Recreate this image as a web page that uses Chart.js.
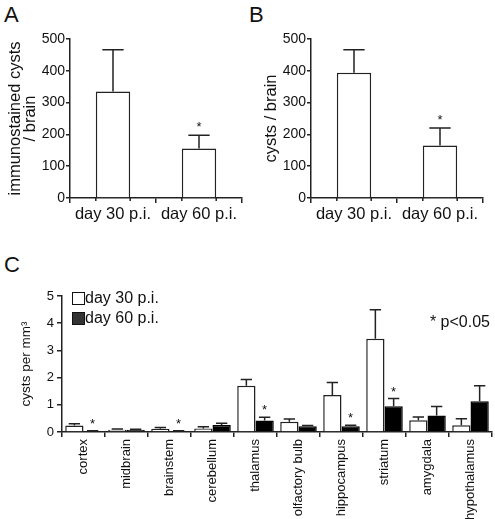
<!DOCTYPE html>
<html>
<head>
<meta charset="utf-8">
<script src="https://cdn.jsdelivr.net/npm/chart.js@4"></script>
<style>
  body { margin: 0; background: #fff; }
  #wrap { position: relative; width: 495px; height: 519px; overflow: hidden; }
  canvas { position: absolute; }
  .panel { position: absolute; font: 22px 'Liberation Sans', Arial, sans-serif; color: #111; }
</style>
</head>
<body>
<div id="wrap">
  <div class="panel" style="left:4px;top:2px">A</div>
  <div class="panel" style="left:249px;top:2px">B</div>
  <div class="panel" style="left:4px;top:252px">C</div>
  <canvas id="chartA" width="250" height="232" style="left:0;top:0"></canvas>
  <canvas id="chartB" width="250" height="232" style="left:245px;top:0"></canvas>
  <canvas id="chartC" width="495" height="249" style="left:0;top:270px"></canvas>
</div>
<script>
// panels A and B
var days = ["day 30 p.i.", "day 60 p.i."];
var immunoMeans = [335, 156];
var immunoErr = [131, 41];
var cystMeans = [394, 165];
var cystErr = [72, 55];
var daySig = [false, true];

// panel C
var regions = ["cortex", "midbrain", "brainstem", "cerebellum", "thalamus",
  "olfactory bulb", "hippocampus", "striatum", "amygdala", "hypothalamus"];
var day30Means = [0.24, 0.08, 0.12, 0.13, 1.70, 0.38, 1.36, 3.43, 0.43, 0.25];
var day30Err = [0.06, 0.03, 0.05, 0.06, 0.23, 0.10, 0.46, 1.06, 0.12, 0.24];
var day60Means = [0.04, 0.08, 0.04, 0.26, 0.42, 0.21, 0.21, 0.95, 0.61, 1.13];
var day60Err = [0.01, 0.02, 0.01, 0.06, 0.12, 0.03, 0.04, 0.28, 0.33, 0.57];
var day60Sig = [true, false, true, false, true, false, true, true, false, false];

var FONT = "'Liberation Sans', Arial, sans-serif";
Chart.defaults.font.family = FONT;
Chart.defaults.color = "#111";

// error bars (upper only), asterisks, extra ticks, legend and note
var extras = {
  id: "extras",
  afterDatasetsDraw: function(chart, args, opts) {
    var ctx = chart.ctx;
    var y = chart.scales.y;
    var area = chart.chartArea;
    ctx.save();
    chart.data.datasets.forEach(function(ds, i) {
      var meta = chart.getDatasetMeta(i);
      meta.data.forEach(function(bar, j) {
        var top = y.getPixelForValue(ds.data[j] + ds.err[j]);
        var half = bar.width * opts.cap / 2;
        ctx.strokeStyle = "#222";
        ctx.lineWidth = 1.5;
        ctx.beginPath();
        ctx.moveTo(bar.x, bar.y);
        ctx.lineTo(bar.x, top);
        ctx.moveTo(bar.x - half, top);
        ctx.lineTo(bar.x + half, top);
        ctx.stroke();
        if (ds.sig && ds.sig[j]) {
          ctx.fillStyle = "#111";
          ctx.font = "13px " + FONT;
          ctx.textAlign = "center";
          ctx.textBaseline = "alphabetic";
          ctx.fillText("*", bar.x, top - opts.starGap);
        }
        if (opts.edgeTicks) {
          ctx.beginPath();
          ctx.moveTo(bar.x - bar.width / 2, area.bottom);
          ctx.lineTo(bar.x - bar.width / 2, area.bottom + 3);
          ctx.moveTo(bar.x + bar.width / 2, area.bottom);
          ctx.lineTo(bar.x + bar.width / 2, area.bottom + 3);
          ctx.stroke();
        }
      });
    });
    if (opts.legend) {
      ctx.font = "16px " + FONT;
      ctx.textAlign = "left";
      ctx.textBaseline = "middle";
      chart.data.datasets.forEach(function(ds, i) {
        var cy = area.top + 2 + i * 20;
        ctx.fillStyle = ds.legendFill;
        ctx.fillRect(area.left + 10, cy - 6, 12, 12);
        ctx.strokeStyle = "#111";
        ctx.lineWidth = 1;
        ctx.strokeRect(area.left + 10.5, cy - 5.5, 12, 12);
        ctx.fillStyle = "#111";
        ctx.fillText(ds.label, area.left + 23, cy + 1);
      });
    }
    if (opts.note) {
      ctx.font = "16px " + FONT;
      ctx.textAlign = "right";
      ctx.textBaseline = "middle";
      ctx.fillStyle = "#111";
      ctx.fillText(opts.note, area.right - 2, area.top + 27);
    }
    ctx.restore();
  }
};

function topChart(id, means, err, title, yWidth, padRight, titlePad) {
  return new Chart(document.getElementById(id), {
    type: "bar",
    data: {
      labels: days,
      datasets: [{
        data: means,
        err: err,
        sig: daySig,
        backgroundColor: "#fff",
        borderColor: "#222",
        borderWidth: 1.5,
        categoryPercentage: 1,
        barPercentage: 0.4
      }]
    },
    options: {
      responsive: false,
      animation: false,
      layout: { padding: { top: 39, right: padRight, left: 0, bottom: 0 } },
      plugins: {
        legend: { display: false },
        tooltip: { enabled: false },
        extras: { cap: 0.62, starGap: 4, edgeTicks: true }
      },
      scales: {
        x: {
          grid: { drawOnChartArea: false, color: "#222", lineWidth: 1.5, tickLength: 5 },
          border: { color: "#222", width: 1.5 },
          ticks: { font: { size: 16.5 }, color: "#111", padding: 2 },
          afterFit: function(s) { s.height = 34; }
        },
        y: {
          min: 0, max: 500,
          grid: { drawOnChartArea: false, color: "#222", lineWidth: 1.5, tickLength: 4 },
          border: { color: "#222", width: 1.5 },
          ticks: { stepSize: 100, font: { size: 14 }, color: "#111", padding: 1 },
          title: { display: true, text: title, font: { size: 16.5, lineHeight: "15px" }, color: "#111", padding: { top: titlePad, bottom: 0 } },
          afterFit: function(s) { s.width = yWidth; }
        }
      }
    },
    plugins: [extras]
  });
}

topChart("chartA", immunoMeans, immunoErr, ["immunostained cysts", "/ brain"], 70, 8, 7.5);
topChart("chartB", cystMeans, cystErr, "cysts / brain", 66, 12, 19);

new Chart(document.getElementById("chartC"), {
  type: "bar",
  data: {
    labels: regions,
    datasets: [{
      label: "day 30 p.i.",
      data: day30Means,
      err: day30Err,
      backgroundColor: "#fff",
      legendFill: "#fff",
      borderColor: "#222",
      borderWidth: 1.5,
      categoryPercentage: 0.85,
      barPercentage: 1
    }, {
      label: "day 60 p.i.",
      data: day60Means,
      err: day60Err,
      sig: day60Sig,
      backgroundColor: "#000",
      legendFill: "#333",
      borderColor: "#000",
      borderWidth: 1.5,
      categoryPercentage: 0.85,
      barPercentage: 1
    }]
  },
  options: {
    responsive: false,
    animation: false,
    layout: { padding: { top: 26, right: 3, left: 0, bottom: 0 } },
    plugins: {
      legend: { display: false },
      tooltip: { enabled: false },
      extras: { cap: 0.62, starGap: 3, legend: true, note: "* p<0.05" }
    },
    scales: {
      x: {
        grid: { drawOnChartArea: false, color: "#222", lineWidth: 1.5, tickLength: 5 },
        border: { color: "#222", width: 1.5 },
        ticks: { font: { size: 13 }, color: "#111", autoSkip: false, minRotation: 90, maxRotation: 90, padding: 2 },
        afterFit: function(s) { s.height = 87; }
      },
      y: {
        min: 0, max: 5,
        grid: { drawOnChartArea: false, color: "#222", lineWidth: 1.5, tickLength: 5 },
        border: { color: "#222", width: 1.5 },
        ticks: { stepSize: 1, font: { size: 13 }, color: "#111", padding: 3 },
        title: { display: true, text: "cysts per mm³", font: { size: 13.5 }, color: "#111", padding: { top: 18, bottom: 0 } },
        afterFit: function(s) { s.width = 62; }
      }
    }
  },
  plugins: [extras]
});
</script>
</body>
</html>
